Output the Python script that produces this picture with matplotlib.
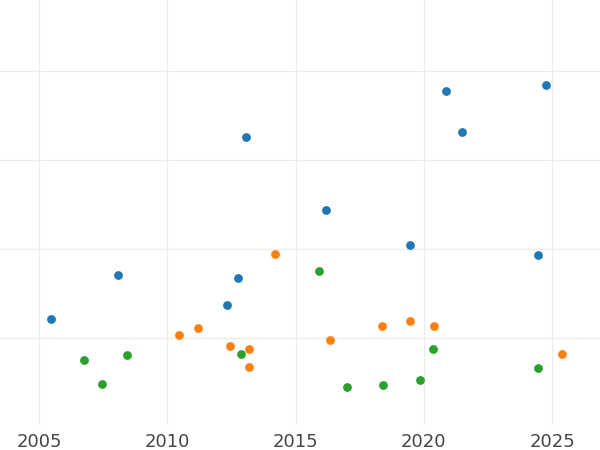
import matplotlib
matplotlib.use("Agg")
import matplotlib.pyplot as plt

blue_x = [2005.47, 2008.08, 2012.33, 2012.76, 2013.07, 2016.19, 2019.46, 2020.87, 2021.49, 2024.45, 2024.77]
blue_y = [1.21, 1.71, 1.37, 1.67, 3.26, 2.44, 2.04, 3.78, 3.31, 1.93, 3.84]
orange_x = [2010.46, 2011.2, 2012.45, 2013.19, 2013.19, 2014.2, 2016.35, 2018.37, 2019.46, 2020.4, 2025.39]
orange_y = [1.03, 1.11, 0.91, 0.88, 0.67, 1.94, 0.98, 1.13, 1.19, 1.13, 0.82]
green_x = [2006.75, 2007.46, 2008.43, 2012.87, 2015.91, 2017.0, 2018.41, 2019.85, 2020.36, 2024.45]
green_y = [0.75, 0.48, 0.81, 0.82, 1.75, 0.45, 0.47, 0.53, 0.88, 0.66]
xticks = [2005, 2010, 2015, 2020, 2025]

fig = plt.figure(figsize=(6, 4.5), dpi=100)
ax = fig.add_axes([0, 0.056, 1, 0.944])
ax.scatter(blue_x, blue_y, s=40, color="#1f77b4", zorder=3, linewidths=0)
ax.scatter(orange_x, orange_y, s=40, color="#ff7f0e", zorder=3, linewidths=0)
ax.scatter(green_x, green_y, s=40, color="#2ca02c", zorder=3, linewidths=0)
ax.set_xlim(2003.48, 2026.87)
ax.set_ylim(0.022, 4.80)
ax.set_xticks(xticks)
ax.set_xticklabels([str(t) for t in xticks])
ax.set_yticks([1, 2, 3, 4])
ax.set_yticklabels([])
ax.grid(True, color="#ebebeb", linewidth=0.8)
ax.set_axisbelow(True)
for s in ax.spines.values():
    s.set_visible(False)
ax.tick_params(length=0, labelsize=13, labelcolor="#444444", pad=6)
fig.savefig("out.png", dpi=100)
